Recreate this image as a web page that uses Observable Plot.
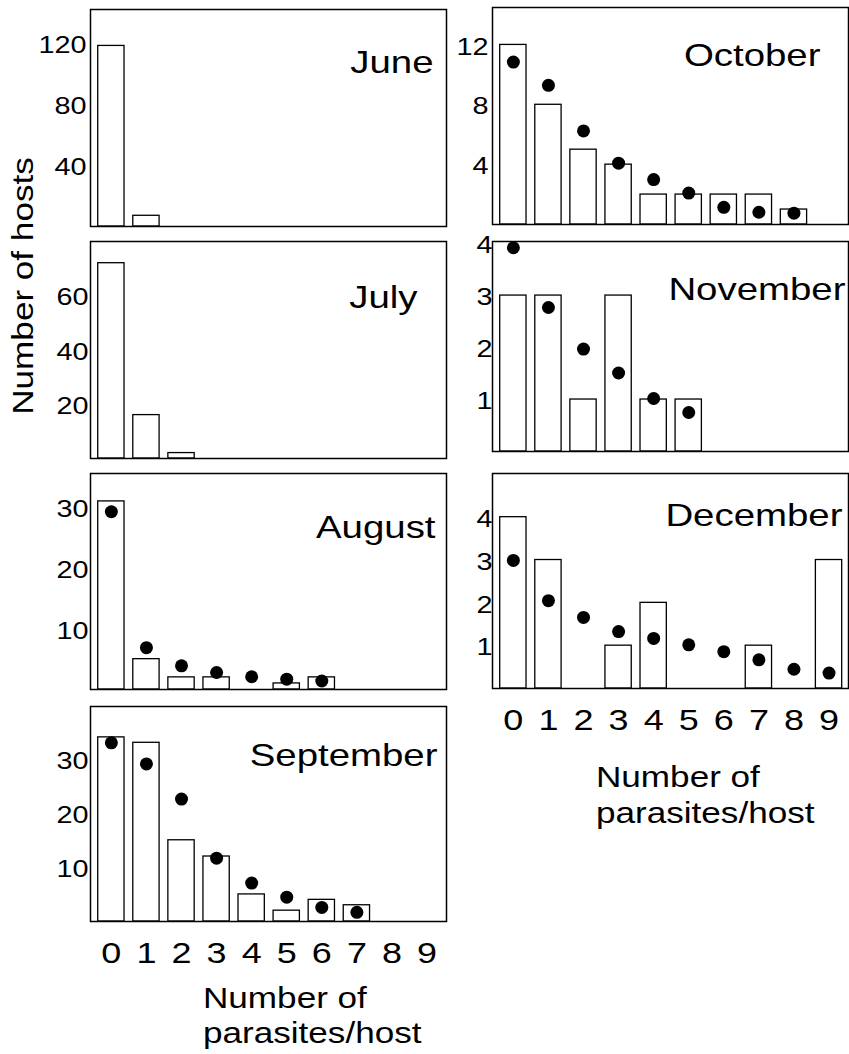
<!DOCTYPE html>
<html>
<head>
<meta charset="utf-8">
<script src="https://cdn.jsdelivr.net/npm/d3@7"></script>
<script src="https://cdn.jsdelivr.net/npm/@observablehq/plot@0.6"></script>
<style>
  html, body { margin: 0; padding: 0; background: #fff; }
  #chart { position: relative; width: 849px; height: 1054px; overflow: hidden; background: #fff;
           font-family: "Liberation Sans", Arial, sans-serif; color: #000; }
  #chart svg { position: absolute; }
</style>
</head>
<body>
<div id="chart"></div>
<script>
// ---------- data ----------
const parasites = [0, 1, 2, 3, 4, 5, 6, 7, 8, 9];
const months = ["June", "July", "August", "September", "October", "November", "December"];

const juneHosts      = [118, 7, 0, 0, 0, 0, 0, 0, 0, 0];
const julyHosts      = [72, 16, 2, 0, 0, 0, 0, 0, 0, 0];
const augustHosts    = [31, 5, 2, 2, 0, 1, 2, 0, 0, 0];
const septemberHosts = [34, 33, 15, 12, 5, 2, 4, 3, 0, 0];
const octoberHosts   = [12, 8, 5, 4, 2, 2, 2, 2, 1, 0];
const novemberHosts  = [3, 3, 1, 3, 1, 1, 0, 0, 0, 0];
const decemberHosts  = [4, 3, 0, 1, 2, 0, 0, 1, 0, 3];

const augustExpected    = [29.3, 6.9, 3.9, 2.8, 2.1, 1.7, 1.4];
const septemberExpected = [33.0, 29.1, 22.6, 11.7, 7.1, 4.5, 2.6, 1.7];
const octoberExpected   = [10.85, 9.3, 6.25, 4.1, 3.0, 2.1, 1.15, 0.82, 0.76];
const novemberExpected  = [3.92, 2.77, 1.97, 1.51, 1.02, 0.75];
const decemberExpected  = [2.99, 2.05, 1.66, 1.33, 1.17, 1.02, 0.86, 0.67, 0.45, 0.36];

const juneTicks      = [40, 80, 120];
const julyTicks      = [20, 40, 60];
const augustTicks    = [10, 20, 30];
const septemberTicks = [10, 20, 30];
const octoberTicks   = [4, 8, 12];
const novemberTicks  = [1, 2, 3, 4];
const decemberTicks  = [1, 2, 3, 4];

const yTitle = "Number of hosts";
const xTitleLines = ["Number of", "parasites/host"];

// ---------- layout ----------
const FONT = "Liberation Sans, Arial, sans-serif";
const columns = [
  {left: 0,   width: 449, marginLeft: 90, marginRight: 3},
  {left: 449, width: 400, marginLeft: 43, marginRight: 1}
];
const panels = [
  {month: months[0], hosts: juneHosts,      expected: null,              ticks: juneTicks,      col: 0, top: 9,   bottom: 226, ymax: 141.8, pad: 4, dx: -13, dy: 41, xaxis: false},
  {month: months[1], hosts: julyHosts,      expected: null,              ticks: julyTicks,      col: 0, top: 241, bottom: 458, ymax: 80,    pad: 2, dx: -29, dy: 44, xaxis: false},
  {month: months[2], hosts: augustHosts,    expected: augustExpected,    ticks: augustTicks,    col: 0, top: 473, bottom: 689, ymax: 35.6,  pad: 2, dx: -11, dy: 42, xaxis: false},
  {month: months[3], hosts: septemberHosts, expected: septemberExpected, ticks: septemberTicks, col: 0, top: 706, bottom: 921, ymax: 39.7,  pad: 2, dx: -9,  dy: 37, xaxis: true},
  {month: months[4], hosts: octoberHosts,   expected: octoberExpected,   ticks: octoberTicks,   col: 1, top: 7,   bottom: 224, ymax: 14.5,  pad: 4, dx: -28, dy: 36, xaxis: false},
  {month: months[5], hosts: novemberHosts,  expected: novemberExpected,  ticks: novemberTicks,  col: 1, top: 241, bottom: 451, ymax: 4.04,  pad: 0, dx: -3,  dy: 36, xaxis: false},
  {month: months[6], hosts: decemberHosts,  expected: decemberExpected,  ticks: decemberTicks,  col: 1, top: 473, bottom: 688, ymax: 5.02,  pad: 0, dx: -6,  dy: 30, xaxis: true}
];

const chart = document.getElementById("chart");

function stretchText(root, k, selector = "text") {
  root.querySelectorAll(selector).forEach(t => {
    const spans = t.querySelectorAll("tspan");
    const targets = spans.length ? Array.from(spans) : [t];
    targets.forEach(el => {
      const L = el.getComputedTextLength();
      if (L > 0) {
        el.setAttribute("textLength", (L * k).toFixed(2));
        el.setAttribute("lengthAdjust", "spacingAndGlyphs");
      }
    });
  });
}

const MT = 8;
for (const p of panels) {
  const c = columns[p.col];
  const mb = p.xaxis ? 60 : 6;
  const height = MT + (p.bottom - p.top) + mb;
  const barData = p.hosts.map((v, i) => ({k: parasites[i], v})).filter(d => d.v > 0);
  const dotData = p.expected ? p.expected.map((v, i) => ({k: parasites[i], v})) : [];
  const marks = [
    Plot.barY(barData, {x: "k", y: "v", fill: "white", stroke: "black", strokeWidth: 1.3}),
    Plot.frame({stroke: "black", strokeWidth: 1.5}),
    Plot.dot(dotData, {x: "k", y: "v", r: 6.5, fill: "black", stroke: "none"}),
    Plot.axisY(p.ticks, {tickSize: 0, tickPadding: p.pad, fontSize: 24, label: null, dy: 2,
                         tickFormat: d => String(d), fill: "black"}),
    Plot.text([p.month], {frameAnchor: "top-right", textAnchor: "end", lineAnchor: "top",
                          dx: p.dx, dy: p.dy, fontSize: 32, fill: "black"})
  ];
  if (p.xaxis) marks.push(Plot.axisX(parasites, {tickSize: 0, tickPadding: 20, fontSize: 30, label: null,
                                                  tickFormat: d => String(d), fill: "black"}));
  const svg = Plot.plot({
    width: c.width,
    height,
    marginLeft: c.marginLeft,
    marginRight: c.marginRight,
    marginTop: MT,
    marginBottom: mb,
    style: {fontFamily: FONT, background: "transparent", overflow: "visible", color: "black"},
    x: {type: "band", domain: parasites, paddingInner: 0.25, paddingOuter: 0.2, align: 0.55, round: false, axis: p.xaxis ? undefined : null},
    y: {domain: [0, p.ymax], nice: false},
    marks
  });
  svg.style.left = c.left + "px";
  svg.style.top = (p.top - MT) + "px";
  chart.appendChild(svg);
  stretchText(svg, 1.2);
}

// ---------- axis titles ----------
const overlay = d3.select(chart).append("svg")
  .attr("width", 849).attr("height", 1054)
  .style("left", "0px").style("top", "0px")
  .attr("font-family", FONT).attr("fill", "black");

overlay.append("text")
  .attr("transform", "translate(33,286) rotate(-90)")
  .attr("text-anchor", "middle")
  .attr("font-size", 30)
  .text(yTitle);

const xTitlePos = [{x: 203, y: [1008, 1043]}, {x: 596, y: [787, 823]}];
for (const pos of xTitlePos) {
  xTitleLines.forEach((line, i) => {
    overlay.append("text")
      .attr("x", pos.x).attr("y", pos.y[i])
      .attr("font-size", 30)
      .text(line);
  });
}
stretchText(overlay.node(), 1.17);
</script>
</body>
</html>
